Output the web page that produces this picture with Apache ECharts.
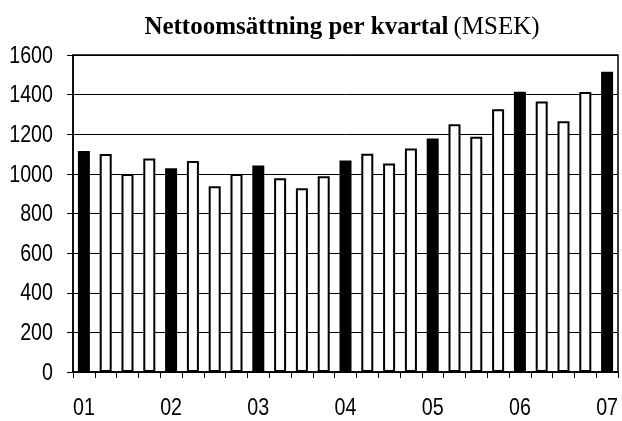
<!DOCTYPE html>
<html>
<head>
<meta charset="utf-8">
<script src="https://cdn.jsdelivr.net/npm/echarts@6/dist/echarts.min.js"></script>
<style>
  html, body { margin: 0; padding: 0; background: #fff; }
  #chart { width: 622px; height: 421px; }
</style>
</head>
<body>
<div id="chart"></div>
<script>
// one bar per quarter, 2001 Q1 .. 2007 Q1
var quarters = [
  '01Q1', '01Q2', '01Q3', '01Q4',
  '02Q1', '02Q2', '02Q3', '02Q4',
  '03Q1', '03Q2', '03Q3', '03Q4',
  '04Q1', '04Q2', '04Q3', '04Q4',
  '05Q1', '05Q2', '05Q3', '05Q4',
  '06Q1', '06Q2', '06Q3', '06Q4',
  '07Q1'
];
var sales = [
  1115, 1100, 1000, 1077,
  1028, 1065, 938, 1000,
  1042, 978, 927, 988,
  1067, 1101, 1052, 1128,
  1178, 1251, 1188, 1326,
  1415, 1365, 1265, 1413,
  1516
];
var yearLabels = ['01', '02', '03', '04', '05', '06', '07'];
var yTicks = [0, 200, 400, 600, 800, 1000, 1200, 1400, 1600];

var myChart = echarts.init(document.getElementById('chart'));

var option = {
  animation: false,
  backgroundColor: '#fff',
  title: {
    text: '{b|Nettoomsättning per kvartal} {n|(MSEK)}',
    left: 337,
    textAlign: 'center',
    top: 10,
    textStyle: {
      rich: {
        b: { fontFamily: "'Liberation Serif', serif", fontWeight: 'bold', fontSize: 25, color: '#000' },
        n: { fontFamily: "'Liberation Serif', serif", fontWeight: 'normal', fontSize: 25, color: '#000' }
      }
    }
  },
  grid: {
    left: 73,
    right: 4,
    top: 55,
    bottom: 49,
    show: true,
    borderColor: '#000',
    borderWidth: 1.5
  },
  xAxis: {
    type: 'category',
    data: quarters,
    boundaryGap: true,
    axisLine: { lineStyle: { color: '#000', width: 1.5 } },
    axisTick: { show: true, interval: 0, alignWithLabel: false, length: 6, lineStyle: { color: '#000', width: 1 } },
    axisLabel: { show: false, interval: 0 },
    splitLine: { show: false }
  },
  yAxis: {
    type: 'value',
    min: yTicks[0],
    max: yTicks[yTicks.length - 1],
    interval: 200,
    axisLine: { show: true, lineStyle: { color: '#000', width: 1.5 } },
    axisTick: { show: true, length: 6, lineStyle: { color: '#000' } },
    axisLabel: { show: false },
    splitLine: { show: true, lineStyle: { color: '#000', width: 1 } }
  },
  series: [{
    type: 'bar',
    data: sales,
    barWidth: 12,
    itemStyle: {
      color: function (p) { return p.dataIndex % 4 === 0 ? '#000' : '#fff'; },
      borderColor: '#000',
      borderWidth: 2
    }
  }]
};

myChart.setOption(option);

// the reference uses a tall, narrow sans for tick labels: draw them as
// scaled text, placed through the chart's own axes
var narrow = { fontFamily: "'Liberation Sans', Arial, sans-serif", fontSize: 24, fill: '#000' };
var labels = [];
yTicks.forEach(function (v) {
  var py = myChart.convertToPixel({ yAxisIndex: 0 }, v);
  labels.push({
    type: 'text', x: 53, y: py + 1, scaleX: 0.82,
    style: echarts.util.extend({ text: String(v), textAlign: 'right', textVerticalAlign: 'middle' }, narrow)
  });
});
yearLabels.forEach(function (lab, i) {
  var px = myChart.convertToPixel({ xAxisIndex: 0 }, quarters[i * 4]);
  labels.push({
    type: 'text', x: px, y: 408, scaleX: 0.82,
    style: echarts.util.extend({ text: lab, textAlign: 'center', textVerticalAlign: 'middle' }, narrow)
  });
});
myChart.setOption({ graphic: labels });
</script>
</body>
</html>
